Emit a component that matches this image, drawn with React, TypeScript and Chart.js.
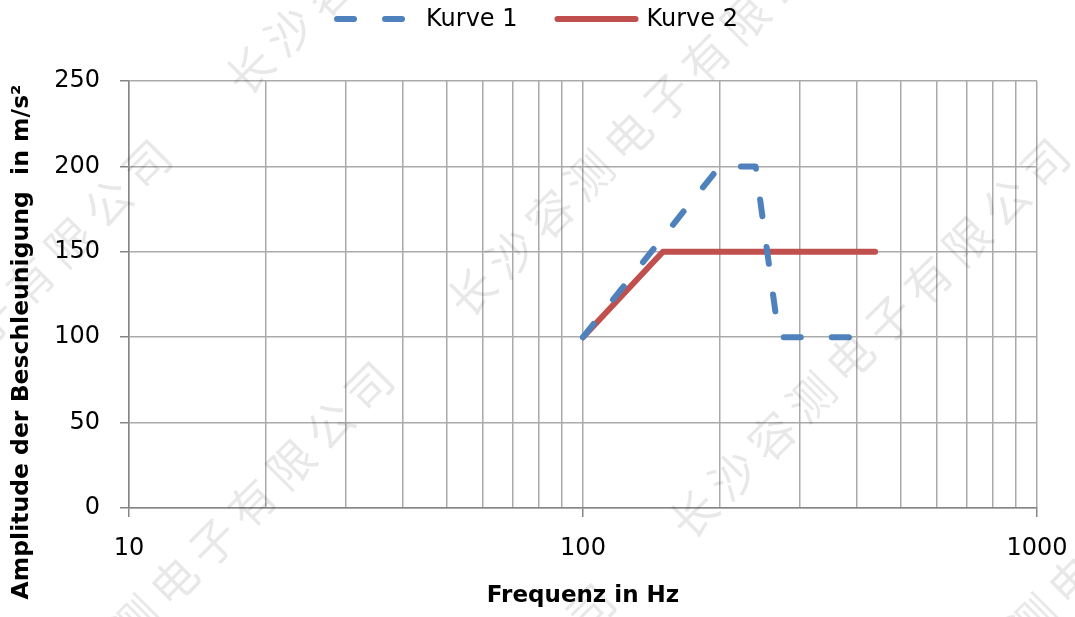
import React, { useEffect, useRef } from "react";
import { Chart, registerables } from "chart.js";

Chart.register(...registerables);

// ---- data ----
const kurve1Freq = [100, 200, 240, 270, 440];
const kurve1Amp = [100, 200, 200, 100, 100];
const kurve2Freq = [100, 150, 440];
const kurve2Amp = [100, 150, 150];
const seriesLabels = ["Kurve 1", "Kurve 2"];
const xGridValues = [10, 20, 30, 40, 50, 60, 70, 80, 90, 100, 200, 300, 400, 500, 600, 700, 800, 900, 1000];
const xLabelValues = [10, 100, 1000];
const yTickValues = [0, 50, 100, 150, 200, 250];
const xTitle = "Frequenz in Hz";
const yTitle = "Amplitude der Beschleunigung  in m/s²";
const watermarkText = "长沙容测电子有限公司";

const BLUE = "#4F81BD";
const RED = "#C0504D";
const GRID = "#aaaaaa";
const AXIS = "#868686";
const FONT = "'DejaVu Sans', sans-serif";

const overlayPlugin = {
  id: "overlay",
  afterDraw(chart: any) {
    const ctx = chart.ctx as CanvasRenderingContext2D;
    const W = chart.width;
    // Y title
    ctx.save();
    ctx.translate(22, 342);
    ctx.rotate(-Math.PI / 2);
    ctx.font = `bold 23.5px ${FONT}`;
    ctx.fillStyle = "#000";
    ctx.textAlign = "center";
    ctx.textBaseline = "middle";
    ctx.fillText(yTitle, 0, 0);
    ctx.restore();

    // Legend
    ctx.save();
    ctx.font = `24px ${FONT}`;
    const lineLen = 78;
    const gapText = 11;
    const gapItems = 40;
    const ds = chart.data.datasets;
    const widths = ds.map((d: any) => ctx.measureText(d.label).width);
    let total = 0;
    ds.forEach((d: any, i: number) => {
      total += lineLen + gapText + widths[i];
      if (i < ds.length - 1) total += gapItems;
    });
    let x = W / 2 - total / 2;
    const ly = 19;
    ds.forEach((d: any, i: number) => {
      ctx.save();
      ctx.strokeStyle = d.borderColor;
      ctx.lineWidth = d.borderWidth;
      ctx.lineCap = "round";
      ctx.setLineDash(d.borderDash || []);
      ctx.beginPath();
      ctx.moveTo(x, ly);
      ctx.lineTo(x + lineLen, ly);
      ctx.stroke();
      ctx.restore();
      x += lineLen + gapText;
      ctx.fillStyle = "#000";
      ctx.textAlign = "left";
      ctx.textBaseline = "middle";
      ctx.fillText(d.label, x, ly + 1);
      x += widths[i] + gapItems;
    });
    ctx.restore();

    // Watermark
    ctx.save();
    ctx.font = `46px 'Noto Sans CJK SC'`;
    ctx.fillStyle = "rgba(0,0,0,0.09)";
    ctx.textAlign = "center";
    ctx.textBaseline = "middle";
    const ax = 694, ay = 514;
    const u = [222, 222];
    const v = [676, -223];
    const step = [39, -39];
    for (let m = -3; m <= 2; m++) {
      for (let n = -1; n <= 1; n++) {
        const bx = ax + m * u[0] + n * v[0];
        const by = ay + m * u[1] + n * v[1];
        const chars = Array.from(watermarkText);
        chars.forEach((c, i) => {
          const cx = bx + i * step[0];
          const cy = by + i * step[1];
          if (cx < -40 || cx > W + 40 || cy < -40 || cy > chart.height + 40) return;
          ctx.save();
          ctx.translate(cx, cy);
          ctx.rotate(-Math.PI / 4);
          ctx.fillText(c, 0, 0);
          ctx.restore();
        });
      }
    }
    ctx.restore();
  },
};

export default function App() {
  const canvasRef = useRef<HTMLCanvasElement | null>(null);

  useEffect(() => {
    if (!canvasRef.current) return;
    const chart = new Chart(canvasRef.current, {
      type: "line",
      data: {
        datasets: [
          {
            label: seriesLabels[0],
            data: kurve1Freq.map((f, i) => ({ x: f, y: kurve1Amp[i] })),
            borderColor: BLUE,
            backgroundColor: BLUE,
            borderWidth: 6,
            borderDash: [17, 31],
            borderCapStyle: "round",
            borderJoinStyle: "round",
            pointRadius: 0,
            tension: 0,
            fill: false,
          },
          {
            label: seriesLabels[1],
            data: kurve2Freq.map((f, i) => ({ x: f, y: kurve2Amp[i] })),
            borderColor: RED,
            backgroundColor: RED,
            borderWidth: 6,
            borderCapStyle: "round",
            borderJoinStyle: "round",
            pointRadius: 0,
            tension: 0,
            fill: false,
          },
        ],
      },
      options: {
        animation: false,
        responsive: true,
        maintainAspectRatio: false,
        layout: { padding: { top: 81, right: 38, left: 0, bottom: 0 } },
        plugins: {
          legend: { display: false },
          tooltip: { enabled: false },
        },
        scales: {
          x: {
            type: "logarithmic",
            position: "bottom",
            min: 10,
            max: 1000,
            afterBuildTicks: (scale: any) => {
              scale.ticks = xGridValues.map((v) => ({ value: v, major: false }));
            },
            afterFit: (scale: any) => {
              scale.height = 109;
              scale.paddingLeft = 0;
              scale.paddingRight = 0;
            },
            ticks: {
              autoSkip: false,
              maxRotation: 0,
              minRotation: 0,
              padding: 17,
              color: "#000",
              font: { family: FONT, size: 24 },
              callback: (value: any) => (xLabelValues.includes(Number(value)) ? String(value) : ""),
            },
            grid: {
              color: GRID,
              lineWidth: 1.5,
              drawTicks: true,
              tickLength: 9,
              tickWidth: 1.5,
              tickColor: (c: any) =>
                c.tick && xLabelValues.includes(c.tick.value) ? AXIS : "rgba(0,0,0,0)",
            },
            border: { color: AXIS, width: 1.5 },
            title: {
              display: true,
              text: xTitle,
              color: "#000",
              font: { family: FONT, size: 23, weight: "bold" },
              padding: { top: 0, bottom: 7 },
            },
          },
          y: {
            type: "linear",
            min: 0,
            max: 250,
            afterBuildTicks: (scale: any) => {
              scale.ticks = yTickValues.map((v) => ({ value: v }));
            },
            afterFit: (scale: any) => {
              scale.width = 129;
              scale.paddingTop = 0;
              scale.paddingBottom = 0;
            },
            ticks: {
              padding: 20,
              color: "#000",
              font: { family: FONT, size: 24 },
            },
            grid: {
              color: GRID,
              lineWidth: 1.5,
              drawTicks: true,
              tickLength: 9,
              tickWidth: 1.5,
              tickColor: AXIS,
            },
            border: { color: AXIS, width: 1.5 },
          },
        },
      },
      plugins: [overlayPlugin],
    } as any);
    return () => chart.destroy();
  }, []);

  return (
    <div style={{ position: "fixed", left: 0, top: 0, width: 1075, height: 617, background: "#fff" }}>
      <canvas ref={canvasRef} />
    </div>
  );
}
